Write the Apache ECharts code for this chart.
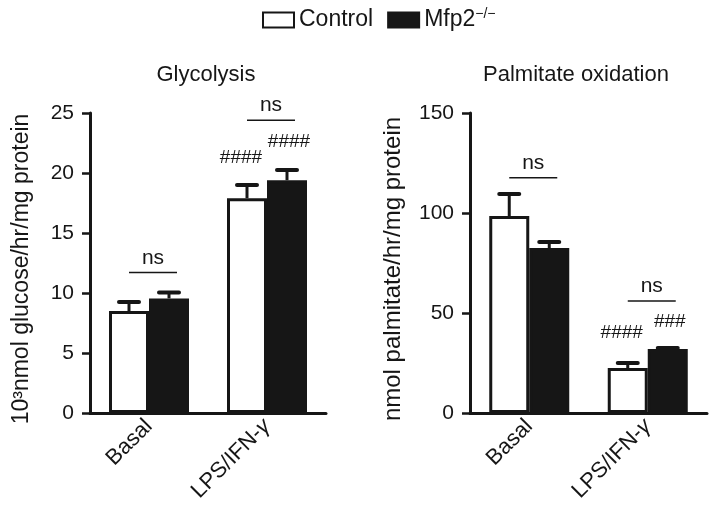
<!DOCTYPE html>
<html>
<head>
<meta charset="utf-8">
<script src="https://cdn.jsdelivr.net/npm/echarts@6/dist/echarts.min.js"></script>
<style>html,body{margin:0;padding:0;background:#fff;}#c{width:709px;height:516px;}</style>
</head>
<body>
<div id="c"></div>
<script>
// ---- data ----
var categories = ['Basal', 'LPS/IFN-γ'];
var seriesNames = ['Control', 'Mfp2'];
var glyControl = [8.5, 17.9];
var glyControlErr = [0.75, 1.1];
var glyMfp2 = [9.55, 19.4];
var glyMfp2Err = [0.5, 0.85];
var palControl = [98.5, 22.5];
var palControlErr = [11, 2.5];
var palMfp2 = [82.5, 32];
var palMfp2Err = [3, 0.5];
var glyTicks = [0, 5, 10, 15, 20, 25];
var palTicks = [0, 50, 100, 150];
var titles = ['Glycolysis', 'Palmitate oxidation'];
var yNames = ['10³nmol glucose/hr/mg protein', 'nmol palmitate/hr/mg protein'];
// annotations: [categoryIndex, value]
var glyNs = [[0, 11.7], [1, 24.4]];
var palNs = [[0, 117.6], [1, 56]];
// hash marks: [categoryIndex, value, side (0 control, 1 Mfp2), text]
var glyHash = [[1, 21.3, 0, '####'], [1, 22.6, 1, '####']];
var palHash = [[1, 40, 0, '####'], [1, 45.5, 1, '###']];

var FONT = "'Liberation Sans', Arial, Helvetica, sans-serif";
var INK = '#161616';
var BARW = 40;

function errSeries(gi, vals, errs, side) {
  var data = vals.map(function (v, i) { return [i, v, errs[i]]; });
  return {
    type: 'custom', xAxisIndex: gi, yAxisIndex: gi, z: 5, silent: true,
    data: data,
    renderItem: function (params, api) {
      var c = api.coord([api.value(0), api.value(1)]);
      var t = api.coord([api.value(0), api.value(1) + api.value(2)]);
      var x = c[0] + (side === 0 ? -BARW / 2 : BARW / 2);
      return {
        type: 'group', children: [
          { type: 'line', shape: { x1: x, y1: c[1], x2: x, y2: t[1] }, style: { stroke: INK, lineWidth: 3 } },
          { type: 'line', shape: { x1: x - 10, y1: t[1], x2: x + 10, y2: t[1] }, style: { stroke: INK, lineWidth: 4, lineCap: 'round' } }
        ]
      };
    }
  };
}
function nsSeries(gi, arr) {
  return {
    type: 'custom', xAxisIndex: gi, yAxisIndex: gi, z: 6, silent: true, clip: false,
    data: arr,
    renderItem: function (params, api) {
      var c = api.coord([api.value(0), api.value(1)]);
      var cx = c[0] + 4;
      return {
        type: 'group', children: [
          { type: 'line', shape: { x1: cx - 24, y1: c[1], x2: cx + 24, y2: c[1] }, style: { stroke: INK, lineWidth: 1.5 } },
          { type: 'text', style: { text: 'ns', x: cx, y: c[1] - 4, textAlign: 'center', textVerticalAlign: 'bottom', fontSize: 21, fontFamily: FONT, fill: INK } }
        ]
      };
    }
  };
}
function hashSeries(gi, arr) {
  return {
    type: 'custom', xAxisIndex: gi, yAxisIndex: gi, z: 6, silent: true, clip: false,
    data: arr.map(function (d) { return d; }),
    dimensions: ['x', 'y', 's', 't'],
    renderItem: function (params, api) {
      var d = arr[params.dataIndex];
      var c = api.coord([d[0], d[1]]);
      var x = c[0] + (d[2] === 0 ? -26 : 22);
      return { type: 'text', style: { text: d[3], x: x, y: c[1], textAlign: 'center', textVerticalAlign: 'middle', fontSize: 19, fontFamily: FONT, fill: INK } };
    }
  };
}
function barSeries(gi, name, vals) {
  var ctrl = name === 'Control';
  return {
    type: 'bar', name: name, xAxisIndex: gi, yAxisIndex: gi, data: vals,
    barWidth: BARW, barGap: '0%',
    itemStyle: { color: ctrl ? '#ffffff' : INK, borderColor: INK, borderWidth: 3 },
    emphasis: { disabled: true }
  };
}
function xAx(gi) {
  return {
    type: 'category', gridIndex: gi, data: categories,
    axisLine: { lineStyle: { color: INK, width: 3 } },
    axisTick: { alignWithLabel: true, length: 7, lineStyle: { color: INK, width: 2.5 } },
    axisLabel: {
      rotate: 45, margin: 10, color: INK, fontSize: 22, fontFamily: FONT,
      formatter: function (v) { return v.indexOf('γ') >= 0 ? v.replace('γ', '') + '{g|γ}' : v; },
      rich: { g: { fontStyle: 'italic', fontSize: 22, fontFamily: FONT, color: INK } }
    }
  };
}
function yAx(gi, ticks, name, gap, fs) {
  return {
    type: 'value', gridIndex: gi, min: ticks[0], max: ticks[ticks.length - 1], interval: ticks[1] - ticks[0],
    name: name, nameLocation: 'middle', nameGap: gap,
    nameTextStyle: { fontSize: fs, fontFamily: FONT, color: INK, padding: [0, 12, 0, 0] },
    axisLine: { show: true, lineStyle: { color: INK, width: 3 } },
    axisTick: { show: true, length: 8, lineStyle: { color: INK, width: 2.5 } },
    axisLabel: { margin: 16, fontSize: 21, fontFamily: FONT, color: INK },
    splitLine: { show: false }
  };
}

var chart = echarts.init(document.getElementById('c'), null, { renderer: 'canvas' });
chart.setOption({
  animation: false,
  textStyle: { fontFamily: FONT },
  title: [
    { text: titles[0], left: 201, top: 59, textAlign: 'center', textStyle: { fontSize: 22, fontWeight: 'normal', fontFamily: FONT, color: INK } },
    { text: titles[1], left: 571, top: 59, textAlign: 'center', textStyle: { fontSize: 22, fontWeight: 'normal', fontFamily: FONT, color: INK } }
  ],
  legend: {
    left: 262, top: 7, padding: 0, itemWidth: 31, itemHeight: 15, itemGap: 14, icon: 'rect',
    data: seriesNames,
    textStyle: { fontSize: 23, fontFamily: FONT, color: INK,
      rich: { n: { fontSize: 23, fontFamily: FONT, color: INK }, s: { fontSize: 14, fontFamily: FONT, color: INK, padding: [0, 0, 12, 0] } } },
    formatter: function (n) { return n === 'Mfp2' ? '{n|Mfp2}{s|−/−}' : n; },
    selectedMode: false
  },
  grid: [
    { left: 90, top: 113, width: 236, height: 300 },
    { left: 470, top: 113, width: 237, height: 300 }
  ],
  xAxis: [xAx(0), xAx(1)],
  yAxis: [yAx(0, glyTicks, yNames[0], 57, 23), yAx(1, palTicks, yNames[1], 65, 24)],
  series: [
    barSeries(0, 'Control', glyControl),
    barSeries(0, 'Mfp2', glyMfp2),
    barSeries(1, 'Control', palControl),
    barSeries(1, 'Mfp2', palMfp2),
    errSeries(0, glyControl, glyControlErr, 0),
    errSeries(0, glyMfp2, glyMfp2Err, 1),
    errSeries(1, palControl, palControlErr, 0),
    errSeries(1, palMfp2, palMfp2Err, 1),
    nsSeries(0, glyNs), nsSeries(1, palNs),
    hashSeries(0, glyHash), hashSeries(1, palHash)
  ]
});
</script>
</body>
</html>
